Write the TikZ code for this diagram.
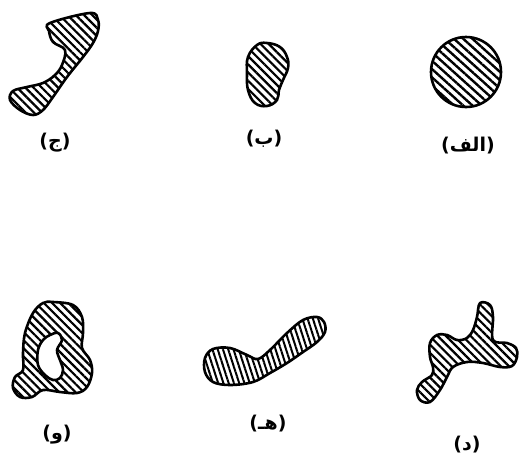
\documentclass[tikz,border=0pt]{standalone}
\usepackage{fontspec}
\newfontfamily\arabicfont[Script=Arabic]{DejaVu Sans}
\TeXXeTstate=1
\usetikzlibrary{patterns.meta}
\tikzset{
  blob/.style={line width=2.6pt, line join=round,
    pattern={Lines[angle=-45,distance=5.8pt,line width=2.2pt]}},
  lbl/.style={font=\arabicfont\bfseries\fontsize{19}{22}\selectfont, inner sep=0pt}
}
\begin{document}
\begin{tikzpicture}[x=1pt,y=-1pt]
\useasboundingbox (0,0) rectangle (519,456);
% (alef) circle
\draw[blob, pattern={Lines[angle=-42,distance=6.2pt,line width=2.4pt]}] (466,72) circle[radius=35];
\node[lbl] (la) at (468,146) {\beginR(الف)\endR};
% (be) bean
\draw[blob] plot[smooth cycle, tension=0.7] coordinates {(248,57) (257,45) (267,43) (280,47) (287,57) (288,68) (283,80) (279,90) (277,100) (267,106) (255,103) (248,90) (247,73)};
\node[lbl] (lb) at (264,139) {\beginR(ب)\endR};
% (jim)
\draw[blob] plot[smooth cycle, tension=0.6] coordinates {(50,23) (90,13) (98,20) (98,31) (93,43) (83,57) (67,77) (53,97) (43,110) (33,115) (20,110) (10,100) (13,91) (27,87) (43,83) (55,75) (62,65) (65,50) (53,42) (49,31)};
\node[lbl] (lj) at (55,143) {\beginR(ج)\endR};
% (vav)
\draw[blob, even odd rule] plot[smooth cycle, tension=0.6] coordinates {(53,302) (73,305) (82,317) (83,333) (82,348) (90,360) (92,373) (87,387) (77,393) (60,392) (43,390) (32,397) (20,397) (13,388) (15,377) (23,370) (23,353) (25,333) (33,313) (43,303)}
  plot[smooth cycle, tension=0.6] coordinates {(58,333) (62,340) (57,350) (60,360) (63,370) (60,378) (53,380) (45,375) (38,365) (38,350) (43,340) (50,335)};
\node[lbl] (lv) at (57,435) {\beginR(و)\endR};
% (he)
\draw[blob, pattern={Lines[angle=-72,distance=5pt,line width=2pt]}] plot[smooth cycle, tension=0.6] coordinates {(205,358) (213,349) (230,348) (247,355) (258,359) (270,350) (287,333) (303,320) (317,317) (324,322) (325,332) (317,342) (303,352) (287,363) (270,373) (253,382) (230,385) (213,382) (205,372)};
\node[lbl] (lh) at (268,424) {\beginR(هـ)\endR};
% (dal)
\draw[blob] plot[smooth cycle, tension=0.6] coordinates {(480,303) (490,305) (493,317) (493,340) (507,343) (516,348) (517,357) (512,366) (500,367) (483,363) (467,362) (453,367) (447,377) (440,390) (430,402) (420,400) (417,390) (422,382) (432,375) (433,367) (430,357) (430,343) (437,335) (447,335) (457,340) (467,338) (473,330) (477,317)};
\node[lbl] (ld) at (467,445) {\beginR(د)\endR};
\end{tikzpicture}
\end{document}
